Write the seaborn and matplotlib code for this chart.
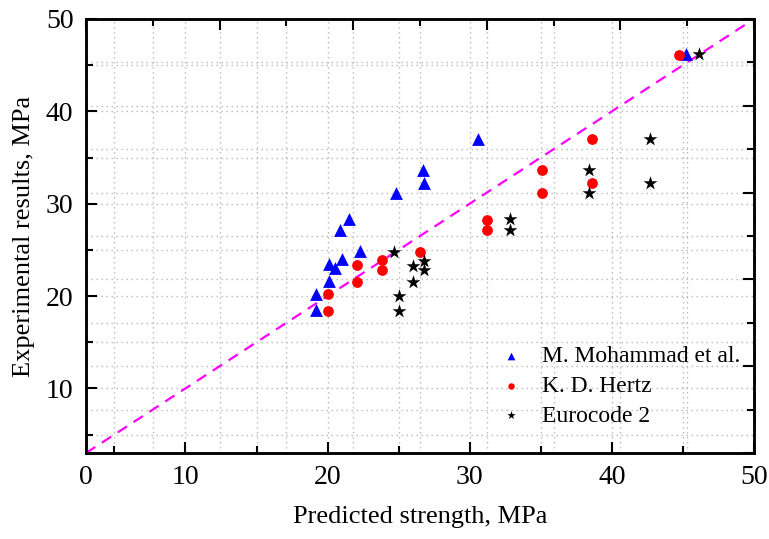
import pandas as pd
import numpy as np
import matplotlib
matplotlib.use("Agg")
import matplotlib.pyplot as plt
import seaborn as sns

# values (predicted, experimental), MPa
mohammad_pred = [19.2, 19.2, 20.1, 20.1, 20.5, 21.0, 22.3, 20.9, 21.5, 24.8, 26.8, 26.7, 30.6, 45.2]
mohammad_exp = [20.2, 18.5, 21.6, 23.5, 23.0, 24.0, 24.9, 27.2, 28.3, 31.2, 32.2, 33.7, 37.0, 46.2]

hertz_pred = [20.0, 20.0, 22.1, 22.1, 23.8, 23.8, 26.5, 31.2, 31.2, 38.6, 38.6, 35.1, 35.1, 44.7]
hertz_exp = [20.2, 18.4, 23.4, 21.5, 23.9, 22.8, 24.8, 28.2, 27.2, 37.0, 32.2, 33.6, 31.2, 46.1]

euro_pred = [24.7, 25.0, 25.0, 26.0, 26.0, 26.8, 26.8, 32.8, 32.8, 38.4, 38.4, 42.7, 42.7, 46.1]
euro_exp = [24.8, 20.0, 18.4, 23.3, 21.5, 23.8, 22.8, 28.3, 27.2, 33.6, 31.2, 37.0, 32.2, 46.2]

labels = ["M. Mohammad et al.", "K. D. Hertz", "Eurocode 2"]
colors = {"M. Mohammad et al.": "#0000ff", "K. D. Hertz": "#ff0000", "Eurocode 2": "#000000"}
markers = {"M. Mohammad et al.": "^", "K. D. Hertz": "o", "Eurocode 2": "*"}
sizes = {"M. Mohammad et al.": 85, "K. D. Hertz": 60, "Eurocode 2": 110}

AX_MIN, AX_MAX = 3, 50

df = pd.concat([
    pd.DataFrame({"pred": p, "exp": e, "method": m})
    for p, e, m in zip([mohammad_pred, hertz_pred, euro_pred],
                       [mohammad_exp, hertz_exp, euro_exp], labels)
], ignore_index=True)

sns.set_style("ticks", {"axes.edgecolor": "black", "xtick.color": "black",
                        "ytick.color": "black", "text.color": "black",
                        "axes.labelcolor": "black"})
plt.rcParams["font.family"] = ["Liberation Serif", "DejaVu Serif"]

fig = plt.figure(figsize=(7.69, 5.39), dpi=100)
rect = [86 / 769, 1 - 453 / 539, 668 / 769, 434 / 539]

grid_kw = dict(color="#b8b8b8", linestyle=(0, (1, 2.6)), linewidth=1.0)

# background frame: 0-50 scale, ticks on top/right
bg = fig.add_axes(rect)
bg.set_xlim(0, 50)
bg.set_ylim(0, 50)
bg.set_xticks(np.arange(0, 51, 10))
bg.set_xticks(np.arange(5, 50, 10), minor=True)
bg.set_yticks(np.arange(0, 51, 10))
bg.set_yticks(np.arange(5, 50, 10), minor=True)
bg.grid(True, which="both", **grid_kw)
bg.set_xticklabels(["0", "", "", "", "", ""])
bg.tick_params(axis="x", which="both", direction="in", bottom=False, top=True,
               labelbottom=True, labeltop=False, labelsize=20, pad=9, width=1.5)
bg.tick_params(axis="y", which="both", direction="in", left=False, right=True,
               labelleft=False, labelright=False, width=1.5)
bg.tick_params(which="major", length=8)
bg.tick_params(which="minor", length=5)
for s in bg.spines.values():
    s.set_linewidth(1.8)

# main data axes
ax = fig.add_axes(rect)
ax.patch.set_alpha(0)
ax.plot([AX_MIN, AX_MAX], [AX_MIN, AX_MAX], color="#ff00ff", linestyle="--",
        dashes=(5, 3.5), linewidth=1.6, zorder=1)
for lab in labels:
    sub = df[df["method"] == lab]
    sns.scatterplot(data=sub, x="pred", y="exp", ax=ax, color=colors[lab],
                    marker=markers[lab], s=sizes[lab], linewidth=0,
                    label=lab, zorder=3)

ax.set_xlim(AX_MIN, AX_MAX)
ax.set_ylim(AX_MIN, AX_MAX)
ax.set_xticks(np.arange(10, 51, 10))
ax.set_xticks(np.arange(5, 50, 10), minor=True)
ax.set_yticks(np.arange(10, 51, 10))
ax.set_yticks(np.arange(5, 50, 10), minor=True)
ax.grid(True, which="both", **grid_kw)
ax.tick_params(which="both", direction="in", top=False, right=False,
               labelsize=20, pad=9, width=1.5)
ax.tick_params(which="major", length=8)
ax.tick_params(which="minor", length=5)
for s in ax.spines.values():
    s.set_linewidth(1.8)

ax.set_xlabel("Predicted strength, MPa", fontsize=19, labelpad=11)
ax.set_ylabel("Experimental results, MPa", fontsize=19, labelpad=8)

ax.legend(loc="lower right", bbox_to_anchor=(1.0, 0.028), frameon=False,
          fontsize=17, markerscale=0.6, handlelength=1.2, handletextpad=0.7,
          labelspacing=0.35, borderaxespad=0.2)

plt.savefig("out.png", dpi=100)
plt.close()
